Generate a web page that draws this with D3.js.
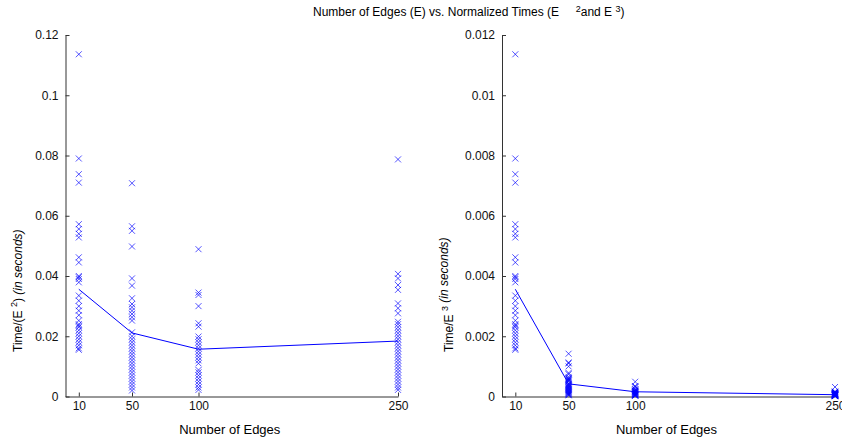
<!DOCTYPE html>
<html>
<head>
<meta charset="utf-8">
<script src="https://cdn.jsdelivr.net/npm/d3@7"></script>
<style>
  body { margin: 0; background: #fff; }
  svg { display: block; font-family: "Liberation Sans", Arial, sans-serif; }
  text { white-space: pre; }
  .axis path, .axis line { stroke: #333; }
  .axis text { font-size: 12px; fill: #111; }
</style>
</head>
<body>
<svg id="chart" width="842" height="441"></svg>
<script>
// Data
const edges = [10, 50, 100, 250];

// Time / E^2 per run, grouped by number of edges
const sq10 = [0.1136, 0.079, 0.0738, 0.071, 0.0572, 0.0556, 0.054, 0.0528, 0.0462, 0.0445, 0.040, 0.0396, 0.039, 0.0379,
  0.0335, 0.0318, 0.030, 0.0285, 0.027, 0.0252, 0.024, 0.0235, 0.023, 0.022, 0.021, 0.020, 0.019, 0.018, 0.017, 0.016, 0.0155];
const sq50 = [0.0708, 0.0565, 0.055, 0.0498, 0.0392, 0.0368, 0.0326, 0.0307, 0.0296, 0.0285, 0.0274, 0.0263, 0.0252,
  0.0213, 0.020, 0.019, 0.018, 0.017, 0.016, 0.015, 0.014, 0.013, 0.012, 0.011, 0.010, 0.009, 0.008, 0.007, 0.006, 0.005, 0.004, 0.003, 0.002];
const sq100 = [0.0489, 0.0345, 0.0337, 0.030, 0.0243, 0.0232, 0.0199, 0.019, 0.018, 0.017, 0.016, 0.015, 0.014, 0.013,
  0.012, 0.011, 0.0088, 0.008, 0.007, 0.006, 0.005, 0.004, 0.003, 0.0022];
const sq250 = [0.0787, 0.0407, 0.0392, 0.037, 0.0354, 0.0309, 0.0293, 0.0276, 0.0248, 0.024, 0.023, 0.022, 0.021, 0.020,
  0.019, 0.018, 0.017, 0.016, 0.015, 0.014, 0.013, 0.012, 0.011, 0.010, 0.009, 0.008, 0.007, 0.006, 0.005, 0.004, 0.003, 0.0022];
const sqMean = [0.0356, 0.0211, 0.0157, 0.0184];

// Time / E^3 per run
const cu10 = [0.01136, 0.0079, 0.00738, 0.0071, 0.00572, 0.00556, 0.0054, 0.00528, 0.00462, 0.00445, 0.0040, 0.00396, 0.0039, 0.00379,
  0.00335, 0.00318, 0.0030, 0.00285, 0.0027, 0.00252, 0.0024, 0.00235, 0.0023, 0.0022, 0.0021, 0.0020, 0.0019, 0.0018, 0.0017, 0.0016, 0.00155];
const cu50 = [0.00142, 0.00113, 0.0011, 0.001, 0.00078, 0.00074, 0.00065, 0.00061, 0.00059, 0.00057, 0.00055, 0.00053, 0.0005,
  0.00043, 0.0004, 0.00038, 0.00036, 0.00034, 0.00032, 0.0003, 0.00028, 0.00026, 0.00024, 0.00022, 0.0002, 0.00018, 0.00016, 0.00014, 0.00012, 0.0001, 0.00008, 0.00006, 0.00004];
const cu100 = [0.00049, 0.000345, 0.000337, 0.0003, 0.000243, 0.000232, 0.000199, 0.00019, 0.00018, 0.00017, 0.00016, 0.00015, 0.00014, 0.00013,
  0.00012, 0.00011, 0.000088, 0.00008, 0.00007, 0.00006, 0.00005, 0.00004, 0.00003, 0.000022];
const cu250 = [0.000315, 0.000163, 0.000157, 0.000148, 0.000142, 0.000124, 0.000117, 0.00011, 0.0000992, 0.000096, 0.000092, 0.000088, 0.000084, 0.00008,
  0.000076, 0.000072, 0.000068, 0.000064, 0.00006, 0.000056, 0.000052, 0.000048, 0.000044, 0.00004, 0.000036, 0.000032, 0.000028, 0.000024, 0.00002, 0.000016, 0.000012, 0.0000088];
const cuMean = [0.00356, 0.00042, 0.000157, 0.00006];

const yTicksSq = [0, 0.02, 0.04, 0.06, 0.08, 0.1, 0.12];
const yLabelsSq = ["0", "0.02", "0.04", "0.06", "0.08", "0.1", "0.12"];
const yTicksCu = [0, 0.002, 0.004, 0.006, 0.008, 0.01, 0.012];
const yLabelsCu = ["0", "0.002", "0.004", "0.006", "0.008", "0.01", "0.012"];

const svg = d3.select("#chart");
const blue = "#0000ff";

function panel(opts) {
  const x = d3.scaleLinear().domain([0, 250]).range([opts.left, opts.right]);
  const y = d3.scaleLinear().domain([0, opts.ymax]).range([396.5, 35]);
  const g = svg.append("g");

  // axes (MATLAB-style inward ticks, no box)
  g.append("g").attr("class", "axis")
    .attr("transform", `translate(0,${y(0)})`)
    .call(d3.axisBottom(x).tickValues(edges).tickSizeInner(-4).tickSizeOuter(0).tickPadding(5));
  g.append("g").attr("class", "axis")
    .attr("transform", `translate(${x(0)},0)`)
    .call(d3.axisLeft(y).tickValues(opts.ticks).tickFormat((d, i) => opts.labels[i])
      .tickSizeInner(-4).tickSizeOuter(0).tickPadding(7));

  // scatter of individual runs as x markers
  const pts = opts.groups.flatMap((vals, i) => vals.map(v => ({ e: edges[i], v })));
  g.append("g").selectAll("path").data(pts).join("path")
    .attr("d", d => {
      const cx = x(d.e), cy = y(d.v), s = 3;
      return `M${cx - s},${cy - s}L${cx + s},${cy + s}M${cx - s},${cy + s}L${cx + s},${cy - s}`;
    })
    .attr("stroke", blue).attr("stroke-width", 0.9).attr("stroke-opacity", 0.75).attr("fill", "none");

  // mean line
  g.append("path")
    .datum(opts.mean.map((v, i) => ({ e: edges[i], v })))
    .attr("d", d3.line().x(d => x(d.e)).y(d => y(d.v)))
    .attr("fill", "none").attr("stroke", blue).attr("stroke-width", 1);

  // x label
  g.append("text").attr("x", (opts.left + opts.right) / 2 - 2).attr("y", 434)
    .attr("text-anchor", "middle").attr("font-size", 13).text("Number of Edges");

  // y label
  const yl = g.append("text")
    .attr("transform", `translate(${opts.ylabX},352) rotate(-90)`)
    .attr("font-size", 12);
  yl.append("tspan").text(opts.ylabA);
  yl.append("tspan").attr("dy", -5).attr("font-size", 9).text(opts.ylabSup);
  yl.append("tspan").attr("dy", 5).text(opts.ylabB);
  yl.append("tspan").attr("font-style", "italic").text(" (in seconds)");
}

panel({ left: 65.5, right: 398, ymax: 0.12, ticks: yTicksSq, labels: yLabelsSq,
  groups: [sq10, sq50, sq100, sq250], mean: sqMean,
  ylabX: 22, ylabA: "Time/(E ", ylabSup: "2", ylabB: ")" });
panel({ left: 502, right: 835, ymax: 0.012, ticks: yTicksCu, labels: yLabelsCu,
  groups: [cu10, cu50, cu100, cu250], mean: cuMean,
  ylabX: 453, ylabA: "Time/E ", ylabSup: "3", ylabB: "" });

// title
const t = svg.append("text").attr("x", 313).attr("y", 16).attr("font-size", 12);
t.append("tspan").text("Number of Edges (E) vs. Normalized Times (E     ");
t.append("tspan").attr("dy", -4).attr("font-size", 9).text("2");
t.append("tspan").attr("dy", 4).text("and E ");
t.append("tspan").attr("dy", -4).attr("font-size", 9).text("3");
t.append("tspan").attr("dy", 4).text(")");
</script>
</body>
</html>
